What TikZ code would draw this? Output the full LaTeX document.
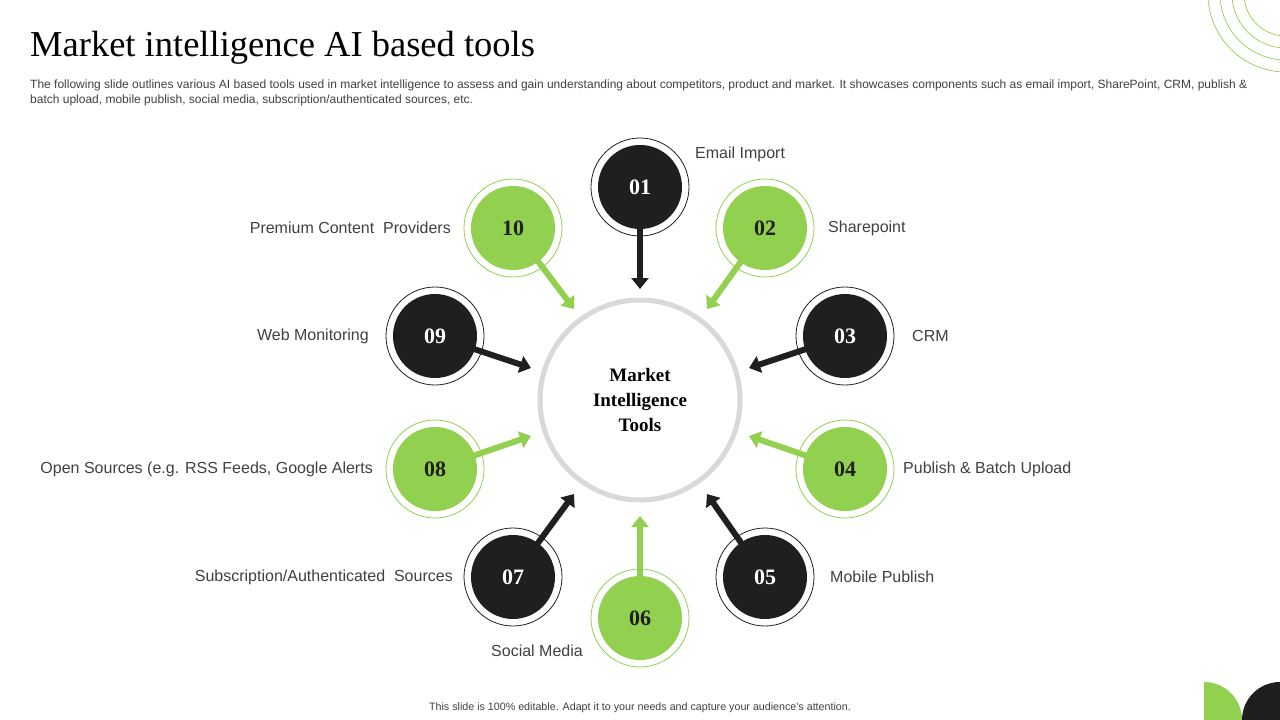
\documentclass[tikz,border=0pt]{standalone}
\usepackage{fontspec}
\setmainfont{Liberation Serif}
\newfontfamily\lsans{Liberation Sans}
\usetikzlibrary{arrows.meta}
\definecolor{gr}{RGB}{146,208,80}
\definecolor{bk}{RGB}{31,31,31}
\definecolor{tx}{RGB}{64,64,64}
\begin{document}
\begin{tikzpicture}[x=1pt,y=-1pt,
  arr/.style={line width=6pt,-{Triangle[length=11pt,width=17pt]}},
  bnode/.style={circle,fill=bk,minimum size=84pt,inner sep=0pt,text=white,font=\fontsize{22}{24}\selectfont\bfseries},
  gnode/.style={circle,fill=gr,minimum size=84pt,inner sep=0pt,text=bk,font=\fontsize{22}{24}\selectfont\bfseries},
  bring/.style={circle,draw=bk,line width=0.8pt,fill=white,minimum size=98pt,inner sep=0pt},
  gring/.style={circle,draw=gr,line width=0.8pt,fill=white,minimum size=98pt,inner sep=0pt},
  lab/.style={font=\lsans\fontsize{16}{19}\selectfont,text=tx,inner sep=0pt}]
\useasboundingbox (0,0) rectangle (1280,720);
% decorations
\begin{scope}
\clip (0,0) rectangle (1280,720);
\foreach \r in {78,66,54,42} \draw[gr,line width=0.7pt] (1286,-6) circle (\r);
\begin{scope}
\clip (1204,600) rectangle (1280,720);
\fill[gr] (1204,720) circle (38);
\end{scope}
\fill[bk] (1280,720) circle (38);
\end{scope}
% title
\node[anchor=west,inner sep=0pt,font=\fontsize{36.5}{40}\selectfont] (title) at (30,48) {Market intelligence AI based tools};
\node[anchor=north west,inner sep=0pt,align=left,text=tx,font=\lsans\fontsize{12}{15}\selectfont] (sub) at (30,80) {The following slide outlines various AI based tools used in market intelligence to assess and gain understanding about competitors, product and market. It showcases components such as email import, SharePoint, CRM, publish \&\\batch upload, mobile publish, social media, subscription/authenticated sources, etc.};
\node[text=tx,font=\lsans\fontsize{10.7}{12}\selectfont,inner sep=0pt] (foot) at (640,708) {This slide is 100\% editable. Adapt it to your needs and capture your audience's attention.};
% center
\node[circle,draw={rgb,255:red,217;green,217;blue,217},line width=5pt,minimum size=200pt,align=center,font=\fontsize{19}{25}\selectfont\bfseries] (c) at (640,400) {Market\\Intelligence\\Tools};
% end points
\coordinate (e1) at (640,289);
\coordinate (e2) at (707,309);
\coordinate (e3) at (749,368);
\coordinate (e4) at (749,436);
\coordinate (e5) at (707,494);
\coordinate (e6) at (640,516);
\coordinate (e7) at (574,494);
\coordinate (e8) at (531,436);
\coordinate (e9) at (531,368);
\coordinate (e10) at (574,309);
% rings
\node[bring] (r1) at (640,187) {};
\node[gring] (r2) at (765,228) {};
\node[bring] (r3) at (845,336) {};
\node[gring] (r4) at (845,469) {};
\node[bring] (r5) at (765,577) {};
\node[gring] (r6) at (640,618) {};
\node[bring] (r7) at (513,577) {};
\node[gring] (r8) at (435,469) {};
\node[bring] (r9) at (435,336) {};
\node[gring] (r10) at (513,228) {};
% arrows
\draw[arr,bk] (r1.center) -- (e1);
\draw[arr,gr] (r2.center) -- (e2);
\draw[arr,bk] (r3.center) -- (e3);
\draw[arr,gr] (r4.center) -- (e4);
\draw[arr,bk] (r5.center) -- (e5);
\draw[arr,gr] (r6.center) -- (e6);
\draw[arr,bk] (r7.center) -- (e7);
\draw[arr,gr] (r8.center) -- (e8);
\draw[arr,bk] (r9.center) -- (e9);
\draw[arr,gr] (r10.center) -- (e10);
% discs
\node[bnode] (n1) at (r1) {01};
\node[gnode] (n2) at (r2) {02};
\node[bnode] (n3) at (r3) {03};
\node[gnode] (n4) at (r4) {04};
\node[bnode] (n5) at (r5) {05};
\node[gnode] (n6) at (r6) {06};
\node[bnode] (n7) at (r7) {07};
\node[gnode] (n8) at (r8) {08};
\node[bnode] (n9) at (r9) {09};
\node[gnode] (n10) at (r10) {10};
% labels
\node[lab,anchor=west] (l1) at (695,154) {Email Import};
\node[lab,anchor=west] (l2) at (828,228) {Sharepoint};
\node[lab,anchor=west] (l3) at (912,336) {CRM};
\node[lab,anchor=west] (l4) at (903,469) {Publish \& Batch Upload};
\node[lab,anchor=west] (l5) at (830,577) {Mobile Publish};
\node[lab] (l6) at (537,651) {Social Media};
\node[lab,anchor=east] (l7) at (453,577) {Subscription/Authenticated\ \ Sources};
\node[lab,anchor=east] (l8) at (373,469) {Open Sources (e.g. RSS Feeds, Google Alerts};
\node[lab,anchor=east] (l9) at (369,336) {Web Monitoring};
\node[lab,anchor=east] (l10) at (451,228) {Premium Content\ \ Providers};
\end{tikzpicture}
\end{document}
